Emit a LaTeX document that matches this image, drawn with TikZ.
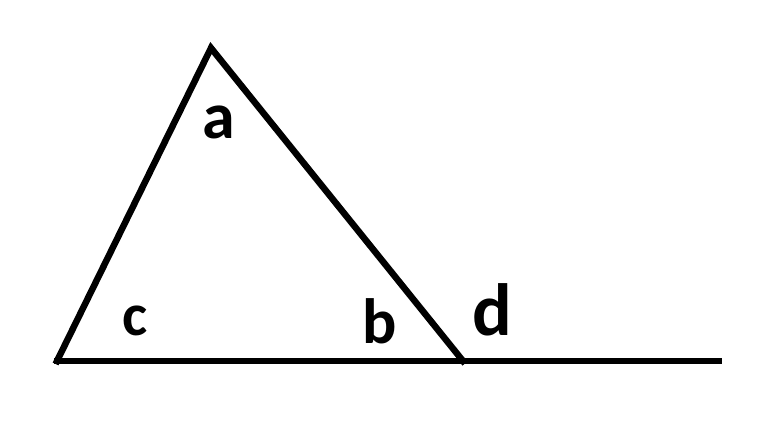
\documentclass[tikz,border=0pt]{standalone}
\usepackage{fontspec}
\setmainfont{Carlito}
\usepackage{tikz}

\tikzset{
    edge/.style={line width=6.5pt, line cap=rect},
    lbl/.style={anchor=base, inner sep=0pt, font=\bfseries}
}

\begin{document}
\begin{tikzpicture}[x=1pt, y=-1pt]
    \useasboundingbox (0,0) rectangle (777,429);

    \coordinate (A) at (211,48);
    \coordinate (C) at (57,361);
    \coordinate (B) at (463,361);
    \coordinate (E) at (719,361);

    \draw[edge] (C) -- (A) -- (B);
    \draw[edge] (C) -- (E);

    \node[lbl, font=\bfseries\fontsize{66}{66}\selectfont] (a) at (219,138) {a};
    \node[lbl, font=\bfseries\fontsize{60}{60}\selectfont] (c) at (135,335) {c};
    \node[lbl, font=\bfseries\fontsize{64}{64}\selectfont] (b) at (380,343) {b};
    \node[lbl, font=\bfseries\fontsize{74}{74}\selectfont] (d) at (492,335) {d};

\end{tikzpicture}
\end{document}
